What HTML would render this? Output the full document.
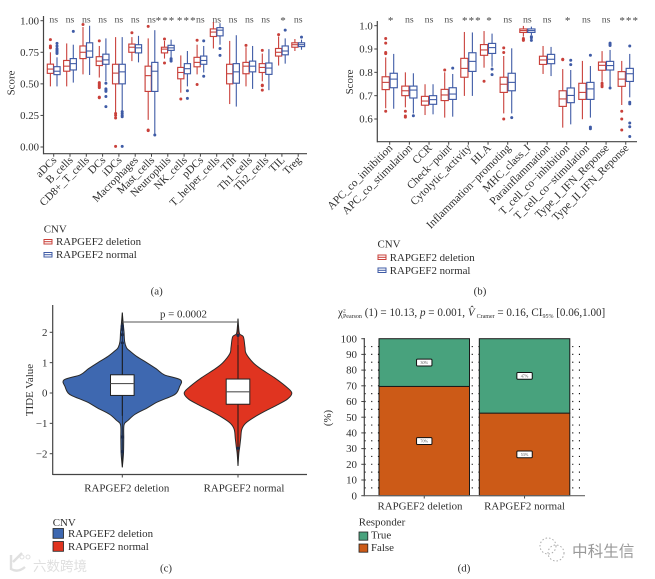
<!DOCTYPE html>
<html lang="en">
<head>
<meta charset="utf-8">
<title>RAPGEF2 CNV immune figure</title>
<style>
html,body{margin:0;padding:0;background:#fff;width:655px;height:579px;overflow:hidden}
svg{display:block;filter:blur(0.3px)}
text{font-family:"Liberation Serif","Noto Serif CJK SC",serif;fill:#2e2e2e;font-size:10.9px}
</style>
</head>
<body>
<svg id="figure" width="655" height="579" viewBox="0 0 655 579" xmlns="http://www.w3.org/2000/svg">
  <g id="panelA"></g>
  <g id="panelB"></g>
  <g id="panelC"></g>
  <g id="panelD"></g>

  <text transform="translate(14.5,83) rotate(-90)" text-anchor="middle">Score</text>
  <text transform="translate(353,82) rotate(-90)" text-anchor="middle">Score</text>
  <text transform="translate(33,390) rotate(-90)" text-anchor="middle">TIDE Value</text>
  <text transform="translate(331,418) rotate(-90)" text-anchor="middle">(%)</text>

  <g>
    <text x="43.7" y="232.5">CNV</text>
    <g><rect x="44" y="239.5" width="8" height="4.5" fill="#fff" stroke="#c9403a"/><line x1="44" x2="52" y1="241.7" y2="241.7" stroke="#c9403a"/></g>
    <g><rect x="44" y="252.5" width="8" height="4.5" fill="#fff" stroke="#3f5ba6"/><line x1="44" x2="52" y1="254.7" y2="254.7" stroke="#3f5ba6"/></g>
    <text x="56" y="245">RAPGEF2 deletion</text>
    <text x="56" y="258">RAPGEF2 normal</text>
  </g>
  <g>
    <text x="377.5" y="247.5">CNV</text>
    <g><rect x="378" y="255" width="8" height="4.5" fill="#fff" stroke="#c9403a"/><line x1="378" x2="386" y1="257.3" y2="257.3" stroke="#c9403a"/></g>
    <g><rect x="378" y="268" width="8" height="4.5" fill="#fff" stroke="#3f5ba6"/><line x1="378" x2="386" y1="270.3" y2="270.3" stroke="#3f5ba6"/></g>
    <text x="389.7" y="261">RAPGEF2 deletion</text>
    <text x="389.7" y="274">RAPGEF2 normal</text>
  </g>
  <g>
    <text x="52.7" y="526">CNV</text>
    <rect x="53" y="528.5" width="10.5" height="9.8" fill="#3e68b0" stroke="#222" stroke-width="0.8"/>
    <rect x="53" y="541.5" width="10.5" height="9.8" fill="#e03420" stroke="#222" stroke-width="0.8"/>
    <text x="68" y="537">RAPGEF2 deletion</text>
    <text x="68" y="550">RAPGEF2 normal</text>
  </g>
  <g>
    <text x="358.7" y="525.5">Responder</text>
    <rect x="359" y="532" width="8.8" height="8.2" fill="#48a27d" stroke="#222" stroke-width="0.8"/>
    <rect x="359" y="544" width="8.8" height="8.2" fill="#cc5a17" stroke="#222" stroke-width="0.8"/>
    <text x="371" y="538.5">True</text>
    <text x="371" y="551">False</text>
  </g>

  <text x="156.7" y="294.5" text-anchor="middle">(a)</text>
  <text x="480" y="294.5" text-anchor="middle">(b)</text>
  <text x="166" y="571.5" text-anchor="middle">(c)</text>
  <text x="464" y="571.5" text-anchor="middle">(d)</text>

  <text x="338" y="316" style="font-size:11.1px">χ<tspan dy="-3.5" style="font-size:5.4px">2</tspan><tspan dx="-2.7" dy="5.5" style="font-size:6px">Pearson</tspan><tspan dy="-2"> (1) = 10.13, </tspan><tspan font-style="italic">p</tspan><tspan> = 0.001, </tspan><tspan font-style="italic">V̂</tspan><tspan dx="2" dy="2" style="font-size:6px">Cramer</tspan><tspan dy="-2"> = 0.16, CI</tspan><tspan dy="2" style="font-size:6px">95%</tspan><tspan dy="-2"> [0.06,1.00]</tspan></text>

  <g opacity="0.9">
    <path d="M11 555 L11 569 Q18 573 25 567 M13 562 L22 553" fill="none" stroke="#ddd" stroke-width="2.4"/>
    <circle cx="22" cy="557" r="2" fill="none" stroke="#ddd"/>
    <circle cx="28" cy="557" r="2" fill="none" stroke="#ddd"/>
    <text x="33" y="571" style="font-family:'Noto Sans CJK SC',sans-serif;font-size:13.5px;fill:#dcdcdc">六数跨境</text>
  </g>
  <g>
    <circle cx="548" cy="546" r="8" fill="none" stroke="#aaa" stroke-width="1" stroke-dasharray="1.5 2"/>
    <circle cx="556" cy="553" r="8" fill="none" stroke="#aaa" stroke-width="1" stroke-dasharray="1.5 2"/>
    <text x="572" y="556.5" style="font-family:'Noto Sans CJK SC',sans-serif;font-size:15.6px;fill:#999">中科生信</text>
  </g>
</svg>
<script>
/* ---------- Panel (a) data: [q1, median, q3, whiskerLow, whiskerHigh, [outliers]] ---------- */
const aCategories = ["aDCs","B_cells","CD8+_T_cells","DCs","iDCs","Macrophages","Mast_cells","Neutrophils","NK_cells","pDCs","T_helper_cells","Tfh","Th1_cells","Th2_cells","TIL","Treg"];
const aSignificance = ["ns","ns","ns","ns","ns","ns","ns","***","***","ns","ns","ns","ns","ns","*","ns"];
const aTicks = [0,0.25,0.5,0.75,1];
const aTickLabels = ["0.00","0.25","0.50","0.75","1.00"];
const aDeletion = [
 [.583,.617,.656,.48,.75,[.85,.80,.79,.785]],
 [.60,.64,.685,.48,.82,[]],
 [.70,.75,.80,.575,.95,[.97]],
 [.645,.68,.715,.55,.80,[.84,.51,.50,.49,.48,.47,.395,.39]],
 [.50,.585,.655,.27,.87,[.265,.25,.23,.005]],
 [.75,.79,.815,.68,.87,[.905]],
 [.44,.565,.64,.215,.86,[.955,.135,.13]],
 [.745,.775,.79,.70,.84,[.855,.665]],
 [.54,.59,.63,.43,.725,[.38]],
 [.635,.67,.71,.575,.81,[.845,.495]],
 [.875,.91,.935,.78,.99,[]],
 [.50,.58,.655,.34,.84,[]],
 [.58,.64,.67,.48,.79,[.805]],
 [.59,.63,.66,.52,.74,[.765,.49,.485,.45]],
 [.72,.75,.78,.645,.875,[.89]],
 [.79,.81,.825,.76,.855,[]]
];
const aNormal = [
 [.573,.60,.636,.48,.71,[.82,.80,.78,.77,.76,.75,.74]],
 [.61,.66,.70,.51,.81,[.915]],
 [.71,.76,.825,.57,.96,[]],
 [.655,.69,.735,.52,.86,[.505,.46,.45,.44,.40,.32]],
 [.50,.595,.655,.29,.87,[.28,.265,.25,.24,.005]],
 [.745,.785,.81,.67,.88,[]],
 [.44,.60,.67,.10,.925,[.095]],
 [.765,.785,.805,.71,.85,[.70,.69,.68]],
 [.58,.62,.66,.48,.76,[.445,.385]],
 [.655,.685,.72,.59,.80,[.84,.56]],
 [.88,.925,.945,.81,.98,[.78,.725]],
 [.505,.595,.66,.32,.885,[]],
 [.595,.64,.68,.46,.80,[]],
 [.575,.625,.665,.45,.775,[]],
 [.73,.76,.80,.66,.86,[.925]],
 [.795,.81,.825,.77,.85,[.87]]
];

/* ---------- Panel (b) data ---------- */
const bCategories = ["APC_co_inhibition","APC_co_stimulation","CCR","Check−point","Cytolytic_activity","HLA","Inflammation−promoting","MHC_class_I","Parainflammation","T_cell_co−inhibition","T_cell_co−stimulation","Type_I_IFN_Reponse","Type_II_IFN_Reponse"];
const bSignificance = ["*","ns","ns","ns","***","*","ns","ns","ns","*","ns","ns","***"];
const bTicks = [0.6,0.7,0.8,0.9,1];
const bTickLabels = ["0.6","0.7","0.8","0.9","1.0"];
const bDeletion = [
 [.726,.757,.781,.646,.864,[.945,.925,.885,.88,.633]],
 [.70,.721,.741,.65,.80,[.633,.613,.608]],
 [.659,.677,.697,.617,.749,[]],
 [.679,.703,.727,.606,.80,[.81]],
 [.779,.817,.86,.699,.973,[]],
 [.873,.896,.919,.82,.977,[.762]],
 [.714,.749,.779,.624,.87,[.905,.885,.60]],
 [.971,.979,.986,.953,.999,[.945,.94,.937]],
 [.834,.853,.869,.793,.913,[]],
 [.654,.686,.721,.563,.814,[.856,.854]],
 [.684,.714,.753,.599,.849,[]],
 [.809,.83,.844,.76,.891,[.753,.745,.738]],
 [.74,.771,.803,.66,.849,[.633,.60,.553]]
];
const bNormal = [
 [.734,.771,.796,.644,.879,[]],
 [.69,.724,.741,.624,.796,[.614]],
 [.663,.683,.70,.62,.749,[]],
 [.684,.707,.734,.61,.793,[.818]],
 [.804,.847,.884,.699,.971,[]],
 [.881,.906,.924,.824,.966,[.814,.79]],
 [.721,.757,.796,.624,.903,[.606]],
 [.971,.979,.986,.96,.996,[.953,.948,.937]],
 [.837,.856,.877,.784,.909,[]],
 [.67,.701,.733,.577,.81,[.852,.833]],
 [.684,.729,.757,.606,.827,[.873,.565,.558]],
 [.81,.829,.847,.739,.896,[.925,.92,.915,.733]],
 [.761,.794,.817,.693,.879,[.913,.672,.665,.583,.567,.525]]
];

/* ---------- Panel (c) data ---------- */
const cCategories = ["RAPGEF2 deletion","RAPGEF2 normal"];
const cTicks = [-2,-1,0,1,2];
const cTickLabels = ["−2","−1","0","1","2"];
const cBlueValues = [2.65,2.3,2.0,1.7,1.5,1.4,1.2,1.0,0.8,0.6,0.43,0.2,0,-0.1,-0.3,-0.5,-0.7,-0.9,-1.05,-1.5,-2,-2.45];
const cBlueDensity = [0,.015,.03,.04,.07,.12,.25,.42,.58,.72,1,.98,.93,.85,.6,.42,.22,.1,.03,.025,.02,0];
const cRedValues = [2.45,2.2,1.95,1.85,1.5,1.3,1.0,0.8,0.5,0.2,0,-0.2,-0.4,-0.6,-0.8,-1.0,-1.2,-1.5,-1.8,-2,-2.4];
const cRedDensity = [0,.01,.03,.1,.13,.15,.28,.42,.68,.9,1,.92,.72,.5,.3,.14,.07,.05,.03,.015,0];
const cBlueBox = [-.08,.31,.60,-.75,1.58];
const cRedBox = [-.37,.04,.46,-1.82,1.58];
const cBlueOutliers = [2.2,2.1,1.92,1.65,-1.45,-1.93];
const cRedOutliers = [1.9,-1.82];
const cPValue = "p = 0.0002";

/* ---------- Panel (d) data ---------- */
const dCategories = ["RAPGEF2 deletion","RAPGEF2 normal"];
const dFalse = [69.6,52.6];
const dTrue = [30.4,47.4];
const dFalseLabels = ["70%","53%"];
const dTrueLabels = ["30%","47%"];
const dTicks = [0,10,20,30,40,50,60,70,80,90,100];
const dGridLevels = [5,10,15,20,25,30,35,40,45,50,55,60,65,70,75,80,85,90,95];

const NS = "http://www.w3.org/2000/svg";
const RED = "#c9403a", BLUE = "#3f5ba6", AXIS = "#444";
function mk(tag, attrs, parent, txt){
  const e = document.createElementNS(NS, tag);
  for (const k in attrs) e.setAttribute(k, attrs[k]);
  if (txt !== undefined) e.textContent = txt;
  parent.appendChild(e);
  return e;
}
function line(p, x1, y1, x2, y2, color, w){
  return mk("line", {x1, y1, x2, y2, stroke: color, "stroke-width": w}, p);
}

/* ---------- Box-plot panels ---------- */
function boxPanel(root, cfg){
  const y = v => cfg.y0 + (v - cfg.v0) * cfg.k;
  const x = i => cfg.x0 + i * cfg.step;

  const yAxis = line(root, cfg.axisX, cfg.axisTop, cfg.axisX, cfg.axisY + .6, AXIS, 1.2);
  
  
  const xAxis = line(root, cfg.axisX, cfg.axisY, cfg.axisRight, cfg.axisY, AXIS, 1.2);
  
  

  cfg.ticks.forEach((v, i) => {
    const t = line(root, cfg.axisX - 3, y(v), cfg.axisX, y(v), AXIS, 1);
    
    
    const l = mk("text", {x: cfg.axisX - 4.5, y: y(v) + 3.6, "text-anchor": "end", style: "font-size:" + cfg.yFont + "px"}, root, cfg.tickLabels[i]);
    
    
  });

  cfg.categories.forEach((c, i) => {
    const cx = x(i);
    const t = line(root, cx, cfg.axisY, cx, cfg.axisY + 3, AXIS, 1);
    
    
    const l = mk("text", {"text-anchor": "end", transform: "translate(" + (cx + 3.5) + "," + (cfg.axisY + 7) + ") rotate(-45)", style: "font-size:" + cfg.xFont + "px"}, root, c);
    
    
    const sig = cfg.sig[i];
    const off = sig === "ns" ? 0 : cfg.starOffset(i, sig);
    const s = mk("text", {x: cx + off, y: sig === "ns" ? 22.5 : 24, "text-anchor": "middle",
      style: sig === "ns" ? "font-size:9.8px;fill:#555" : "font-size:11px;letter-spacing:1.1px;fill:#444"}, root, sig);
    
    
    drawBox(root, cfg.del[i], cx - cfg.dodge, cfg.boxW, RED, y, 'box-deletion');
    drawBox(root, cfg.nor[i], cx + cfg.dodge, cfg.boxW, BLUE, y, 'box-normal');
  });
}
function drawBox(root, d, cx, w, color, y, name){
  const g = mk("g", {}, root);
  
  
  const lo = line(g, cx, y(d[3]), cx, y(d[0]), color, 1.1);
  
  
  const hi = line(g, cx, y(d[2]), cx, y(d[4]), color, 1.1);
  
  
  const r = mk("rect", {x: cx - w / 2, y: y(d[2]), width: w, height: y(d[0]) - y(d[2]), fill: "#fff", stroke: color, "stroke-width": 1.15}, g);
  
  
  const m = line(g, cx - w / 2, y(d[1]), cx + w / 2, y(d[1]), color, 1.1);
  
  
  d[5].forEach(o => {
    const c = mk("circle", {cx, cy: y(o), r: 1.5, fill: color}, g);
    
    
  });
}
boxPanel(document.getElementById("panelA"), {
  categories: aCategories, sig: aSignificance, ticks: aTicks, tickLabels: aTickLabels, del: aDeletion, nor: aNormal,
  y0: 147, v0: 0, k: -126.3, x0: 53.7, step: 16.3, axisX: 43.5, axisTop: 16, axisY: 153.7, axisRight: 307,
  dodge: 3.3, boxW: 6.2, yFont: 10.8, xFont: 11,
  starOffset: i => i === 7 ? -2.3 : i === 8 ? 2.7 : 1.7
});
boxPanel(document.getElementById("panelB"), {
  categories: bCategories, sig: bSignificance, ticks: bTicks, tickLabels: bTickLabels, del: bDeletion, nor: bNormal,
  y0: 119, v0: .6, k: -233.3, x0: 389.7, step: 19.67, axisX: 377.3, axisTop: 21, axisY: 141.7, axisRight: 637,
  dodge: 4, boxW: 7.2, yFont: 10.8, xFont: 11.2,
  starOffset: (i, sig) => sig === "***" ? 3.5 : 1.5
});

/* ---------- Panel (c): violin ---------- */
(function(){
  const root = document.getElementById("panelC");
  const y = v => 393 - v * 30.35;
  const xs = [122.3, 238];
  const maxW = [58.3, 53.8];
  function smooth(pts){
    let d = "M" + pts[0][0] + " " + pts[0][1];
    for (let i = 0; i < pts.length - 1; i++){
      const p0 = pts[i - 1] || pts[i], p1 = pts[i], p2 = pts[i + 1], p3 = pts[i + 2] || p2;
      d += " C" + (p1[0] + (p2[0] - p0[0]) / 6) + " " + (p1[1] + (p2[1] - p0[1]) / 6) + " " +
           (p2[0] - (p3[0] - p1[0]) / 6) + " " + (p2[1] - (p3[1] - p1[1]) / 6) + " " + p2[0] + " " + p2[1];
    }
    return d;
  }
  function violin(idx, vals, dens, box, outs, fill, name){
    const cx = xs[idx], w = maxW[idx];
    const left = vals.map((v, i) => [cx - dens[i] * w, y(v)]);
    const right = vals.map((v, i) => [cx + dens[i] * w, y(v)]).reverse();
    const g = mk("g", {}, root);
    
    
    const body = mk("path", {d: smooth(left) + smooth(right).replace(/^M[^C]*/, " L" + right[0][0] + " " + right[0][1] + " ") + "Z", fill, stroke: "#2a2a2a", "stroke-width": 1}, g);
    
    
    const wh = line(g, cx, y(box[3]), cx, y(box[4]), "#1a1a1a", 1);
    
    
    const tip = line(g, cx, y(vals[0]), cx, y(vals[vals.length - 1]), "#1a1a1a", .7);
    
    
    outs.forEach(o => {
      const c = mk("circle", {cx, cy: y(o), r: 1.6, fill: "#1a2a4a"}, g);
      
      
    });
    const r = mk("rect", {x: cx - 11.8, y: y(box[2]), width: 23.6, height: y(box[0]) - y(box[2]), fill: "#fff", stroke: "#222", "stroke-width": 1}, g);
    
    
    const m = line(g, cx - 11.8, y(box[1]), cx + 11.8, y(box[1]), "#555", 1.1);
    
    
  }
  violin(0, cBlueValues, cBlueDensity, cBlueBox, cBlueOutliers, "#3e68b0", "violin-deletion");
  violin(1, cRedValues, cRedDensity, cRedBox, cRedOutliers, "#e03420", "violin-normal");

  const ya = line(root, 52.7, 305, 52.7, 475, AXIS, 1.2);
  
  
  const xa = line(root, 52.7, 474.5, 307, 474.5, AXIS, 1.2);
  
  
  cTicks.forEach((v, i) => {
    const t = line(root, 49.7, y(v), 52.7, y(v), AXIS, 1);
    
    
    const l = mk("text", {x: 47.5, y: y(v) + 3.6, "text-anchor": "end"}, root, cTickLabels[i]);
    
    
  });
  cCategories.forEach((c, i) => {
    const t = line(root, xs[i], 474.5, xs[i], 477.5, AXIS, 1);
    
    
    const l = mk("text", {x: xs[i] + 4.5 + i * 1.5, y: 491.3, "text-anchor": "middle"}, root, c);
    
    
  });
  const br = line(root, xs[0], 322, xs[1], 322, "#555", 1);
  
  
  const p = mk("text", {x: 183.5, y: 317.5, "text-anchor": "middle"}, root, cPValue);
  
  
})();

/* ---------- Panel (d): stacked bars ---------- */
(function(){
  const root = document.getElementById("panelD");
  const y = v => 495.7 - v * 1.57;
  const barX = [379, 479.3];
  const barW = 90.5;
  dGridLevels.forEach(v => {
    const gl = mk("line", {x1: 364.5, x2: 585, y1: y(v), y2: y(v), stroke: "#111", "stroke-width": 1.2, "stroke-dasharray": "1.1 5.6"}, root);
    
    
  });
  dCategories.forEach((c, i) => {
    const f = mk("rect", {x: barX[i], y: y(dFalse[i]), width: barW, height: y(0) - y(dFalse[i]), fill: "#cc5a17", stroke: "#1a1a1a", "stroke-width": 1}, root);
    
    
    const t = mk("rect", {x: barX[i], y: y(dFalse[i] + dTrue[i]), width: barW, height: y(dFalse[i]) - y(dFalse[i] + dTrue[i]), fill: "#48a27d", stroke: "#1a1a1a", "stroke-width": 1}, root);
    
    
    [[dFalse[i] / 2, dFalseLabels[i]], [dFalse[i] + dTrue[i] / 2, dTrueLabels[i]]].forEach(pair => {
      const cx = barX[i] + barW / 2;
      const b = mk("rect", {x: cx - 7.7, y: y(pair[0]) - 3.4, width: 15.4, height: 6.8, rx: 1, fill: "#fff", stroke: "#111", "stroke-width": 1}, root);
      
      
      const l = mk("text", {x: cx, y: y(pair[0]) + 1.5, "text-anchor": "middle", style: "font-size:4.2px;fill:#555"}, root, pair[1]);
      
      
    });
    const tk = line(root, barX[i] + barW / 2, 495.7, barX[i] + barW / 2, 498.5, AXIS, 1);
    
    
    const lb = mk("text", {x: barX[i] + barW / 2 - (i ? 0 : 4.25), y: 509.5, "text-anchor": "middle"}, root, c);
    
    
  });
  const ya = line(root, 364.3, 338, 364.3, 496.3, AXIS, 1.2);
  
  
  const xa = line(root, 364.3, 495.7, 585, 495.7, "#666", 1.2);
  
  
  dTicks.forEach(v => {
    const t = line(root, 361.3, y(v), 364.3, y(v), AXIS, 1);
    
    
    const l = mk("text", {x: 357, y: y(v) + 3.6, "text-anchor": "end"}, root, v);
    
    
  });
})();
</script>
</body>
</html>
